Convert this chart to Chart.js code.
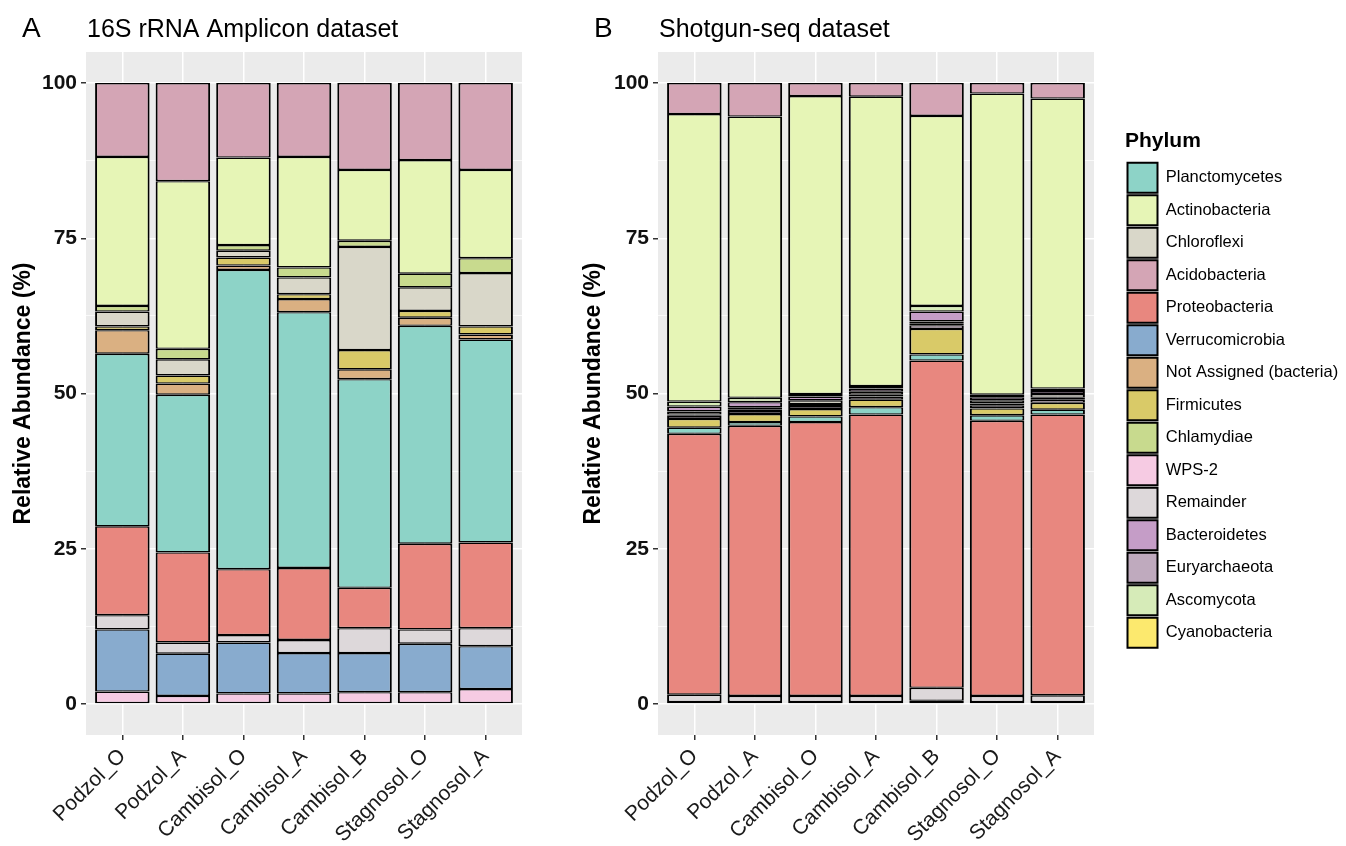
<!DOCTYPE html>
<html>
<head>
<meta charset="utf-8">
<title>Relative abundance by phylum</title>
<script src="https://cdn.jsdelivr.net/npm/chart.js@4.4.0/dist/chart.umd.min.js"></script>
<style>
  html, body { margin: 0; padding: 0; background: #fff; }
  body { width: 1346px; height: 846px; position: relative; overflow: hidden; }
  canvas { position: absolute; top: 0; }
  #chartA { left: 0; }
  #chartB { left: 560px; }
</style>
</head>
<body>
<canvas id="chartA" width="540" height="846"></canvas>
<canvas id="chartB" width="786" height="846"></canvas>
<script>
// ───────────────
// Data (percent per sample)
const samples = ['Podzol_O', 'Podzol_A', 'Cambisol_O', 'Cambisol_A', 'Cambisol_B', 'Stagnosol_O', 'Stagnosol_A'];
const yLabels = [0, 25, 50, 75, 100];
const yGrid   = [0, 12.5, 25, 37.5, 50, 62.5, 75, 87.5, 100];

// stacking order, bottom first
const phyla = ['WPS-2', 'Verrucomicrobia', 'Remainder', 'Proteobacteria', 'Planctomycetes',
  'Not Assigned (bacteria)', 'Firmicutes', 'Euryarchaeota', 'Cyanobacteria', 'Chloroflexi',
  'Chlamydiae', 'Bacteroidetes', 'Ascomycota', 'Actinobacteria', 'Acidobacteria'];
const phylumColors = ['#F6CBE3', '#88ABCE', '#DDD8DA', '#E8877F', '#8DD3C7',
  '#DAB082', '#D9CA68', '#BFAABE', '#FCE96E', '#D9D7C9',
  '#C8DA8E', '#C59DC7', '#D6EBB8', '#E6F5B6', '#D4A5B5'];
const legendOrder = ['Planctomycetes', 'Actinobacteria', 'Chloroflexi', 'Acidobacteria', 'Proteobacteria',
  'Verrucomicrobia', 'Not Assigned (bacteria)', 'Firmicutes', 'Chlamydiae', 'WPS-2',
  'Remainder', 'Bacteroidetes', 'Euryarchaeota', 'Ascomycota', 'Cyanobacteria'];

// 16S rRNA amplicon
const ampWPS2        = [2.0, 1.3, 1.7, 1.7, 1.9, 1.9, 2.4];
const ampVerruco     = [10.0, 6.8, 8.2, 6.5, 6.3, 7.8, 6.9];
const ampRemainder   = [2.3, 1.8, 1.2, 2.1, 4.0, 2.3, 2.9];
const ampProteo      = [14.3, 14.5, 10.6, 11.6, 6.5, 13.8, 13.8];
const ampPlancto     = [27.8, 25.4, 48.2, 41.2, 33.6, 35.1, 32.7];
const ampNotAssigned = [3.8, 1.8, 0.7, 2.1, 1.6, 1.3, 0.8];
const ampFirmicutes  = [0.6, 1.3, 1.3, 0.8, 3.1, 1.1, 1.3];
const ampEuryarch    = [0, 0, 0, 0, 0, 0, 0];
const ampCyano       = [0, 0, 0, 0, 0, 0, 0];
const ampChloroflexi = [2.4, 2.6, 1.1, 2.7, 16.6, 3.8, 8.6];
const ampChlamydiae  = [0.9, 1.7, 0.9, 1.6, 1.0, 2.2, 2.4];
const ampBactero     = [0, 0, 0, 0, 0, 0, 0];
const ampAscomycota  = [0, 0, 0, 0, 0, 0, 0];
const ampActino      = [24.0, 27.0, 14.1, 17.8, 11.4, 18.3, 14.2];
const ampAcido       = [11.9, 15.8, 12.0, 11.9, 14.0, 12.4, 14.0];

// shotgun metagenomes
const sgWPS2        = [0, 0, 0, 0, 0, 0, 0];
const sgVerruco     = [0.3, 0.3, 0.3, 0.3, 0.5, 0.3, 0.3];
const sgRemainder   = [1.2, 1.0, 1.0, 1.0, 2.1, 1.0, 1.1];
const sgProteo      = [42.0, 43.5, 44.1, 45.3, 52.7, 44.3, 45.2];
const sgPlancto     = [1.0, 0.6, 0.9, 1.2, 1.0, 0.9, 0.8];
const sgNotAssigned = [0, 0, 0, 0, 0, 0, 0];
const sgFirmicutes  = [1.4, 1.3, 1.2, 1.2, 4.1, 1.1, 1.1];
const sgEuryarch    = [0.5, 0.5, 0.5, 0.5, 0.6, 0.5, 0.5];
const sgCyano       = [0.2, 0.2, 0.3, 0.3, 0.3, 0.3, 0.3];
const sgChloroflexi = [0.5, 0.4, 0.6, 0.5, 0.3, 0.5, 0.6];
const sgChlamydiae  = [0, 0, 0, 0, 0, 0, 0];
const sgBactero     = [0.8, 0.8, 0.6, 0.5, 1.6, 0.5, 0.5];
const sgAscomycota  = [0.8, 0.7, 0.4, 0.4, 0.9, 0.4, 0.4];
const sgActino      = [46.3, 45.3, 48.0, 46.6, 30.6, 48.5, 46.7];
const sgAcido       = [5.0, 5.4, 2.1, 2.2, 5.3, 1.7, 2.5];

const ampSeries = [ampWPS2, ampVerruco, ampRemainder, ampProteo, ampPlancto, ampNotAssigned, ampFirmicutes,
  ampEuryarch, ampCyano, ampChloroflexi, ampChlamydiae, ampBactero, ampAscomycota, ampActino, ampAcido];
const sgSeries = [sgWPS2, sgVerruco, sgRemainder, sgProteo, sgPlancto, sgNotAssigned, sgFirmicutes,
  sgEuryarch, sgCyano, sgChloroflexi, sgChlamydiae, sgBactero, sgAscomycota, sgActino, sgAcido];

// ───────────────
Chart.defaults.font.family = '"Liberation Sans", Arial, Helvetica, sans-serif';
Chart.defaults.color = '#1a1a1a';

// grey panel behind the grid + tag and title above it
const panelPlugin = {
  id: 'panel',
  beforeDraw(chart, args, opts) {
    const { ctx, chartArea: a } = chart;
    ctx.save();
    ctx.fillStyle = '#EBEBEB';
    ctx.fillRect(a.left, a.top, a.right - a.left, a.bottom - a.top);
    ctx.restore();
  },
  afterDraw(chart, args, opts) {
    const ctx = chart.ctx;
    ctx.save();
    ctx.fillStyle = '#000';
    ctx.textAlign = 'left';
    ctx.textBaseline = 'alphabetic';
    ctx.font = '28px "Liberation Sans", Arial, sans-serif';
    ctx.fillText(opts.tag, opts.tagX, 37);
    ctx.font = '25px "Liberation Sans", Arial, sans-serif';
    ctx.fillText(opts.title, chart.chartArea.left + 1, 37);
    ctx.restore();
  }
};

function buildDatasets(series) {
  return phyla.map((name, i) => ({
    label: name,
    data: series[i].map((v, j) => ({ x: j, y: v > 0 ? v : null })),
    backgroundColor: phylumColors[i],
    borderColor: '#000',
    borderWidth: { top: 1.4, bottom: 1.4, left: 2, right: 2 },
    borderSkipped: false,
    inflateAmount: 0,
    barPercentage: 0.9,
    categoryPercentage: 1
  }));
}

function buildScales(yWidth) {
  return {
    x: {
      type: 'linear', stacked: true, min: -0.6, max: 6.6, offset: false,
      afterBuildTicks: s => { s.ticks = samples.map((_, i) => ({ value: i })); },
      afterFit: s => { s.height = 111; },
      ticks: {
        autoSkip: false, maxRotation: 45, minRotation: 45, padding: 4,
        color: '#1a1a1a', font: { size: 21 },
        callback: v => samples[v]
      },
      grid: { offset: false, color: '#fff', lineWidth: 1.5, tickLength: 5, tickColor: '#333', tickWidth: 1.5 },
      border: { display: false }
    },
    y: {
      stacked: true, min: -5, max: 105,
      afterBuildTicks: s => { s.ticks = yGrid.map(v => ({ value: v })); },
      afterFit: s => { s.width = yWidth; },
      ticks: {
        autoSkip: false, padding: 4, color: '#111',
        font: { size: 21, weight: 'bold' },
        callback: v => yLabels.includes(v) ? String(v) : ''
      },
      grid: {
        color: '#fff',
        lineWidth: c => yLabels.includes(c.tick.value) ? 1.5 : 0.7,
        tickLength: 5,
        tickColor: c => yLabels.includes(c.tick.value) ? '#333' : 'rgba(0,0,0,0)',
        tickWidth: 1.5
      },
      border: { display: false },
      title: {
        display: true, text: 'Relative Abundance (%)', color: '#000',
        font: { size: 23, weight: 'bold' }, padding: { top: 10, bottom: 0 }
      }
    }
  };
}

// Panel A: 16S rRNA amplicons
new Chart(document.getElementById('chartA'), {
  type: 'bar',
  data: { datasets: buildDatasets(ampSeries) },
  options: {
    responsive: false, animation: false, events: [],
    layout: { padding: { top: 52, right: 18, left: 0, bottom: 0 } },
    scales: buildScales(86),
    plugins: {
      legend: { display: false },
      tooltip: { enabled: false },
      panel: { tag: 'A', tagX: 22, title: '16S rRNA Amplicon dataset' }
    }
  },
  plugins: [panelPlugin]
});

// Panel B: shotgun, with the shared legend on the right
const scalesB = buildScales(98);
scalesB.y.title.padding = { top: 20, bottom: 0 };
scalesB.gap = {
  type: 'linear', position: 'right', display: true,
  grid: { display: false }, ticks: { display: false }, border: { display: false },
  afterFit: s => { s.width = 31; }
};

new Chart(document.getElementById('chartB'), {
  type: 'bar',
  data: { datasets: buildDatasets(sgSeries) },
  options: {
    responsive: false, animation: false, events: [],
    layout: { padding: { top: 52, right: 0, left: 0, bottom: 0 } },
    scales: scalesB,
    plugins: {
      tooltip: { enabled: false },
      panel: { tag: 'B', tagX: 34, title: 'Shotgun-seq dataset' },
      legend: {
        display: true, position: 'right', align: 'start', maxWidth: 221,
        title: {
          display: true, text: 'Phylum', color: '#000', position: 'start',
          font: { size: 21, weight: 'bold' }, padding: { top: 79, bottom: 4 }
        },
        labels: {
          boxWidth: 30, boxHeight: 30, padding: 2.5,
          color: '#1a1a1a', font: { size: 16.5 },
          generateLabels: () => legendOrder.map(name => {
            const i = phyla.indexOf(name);
            return { text: name, fillStyle: phylumColors[i], strokeStyle: '#000', lineWidth: 2, hidden: false, datasetIndex: i };
          })
        }
      }
    }
  },
  plugins: [panelPlugin]
});
</script>
</body>
</html>
